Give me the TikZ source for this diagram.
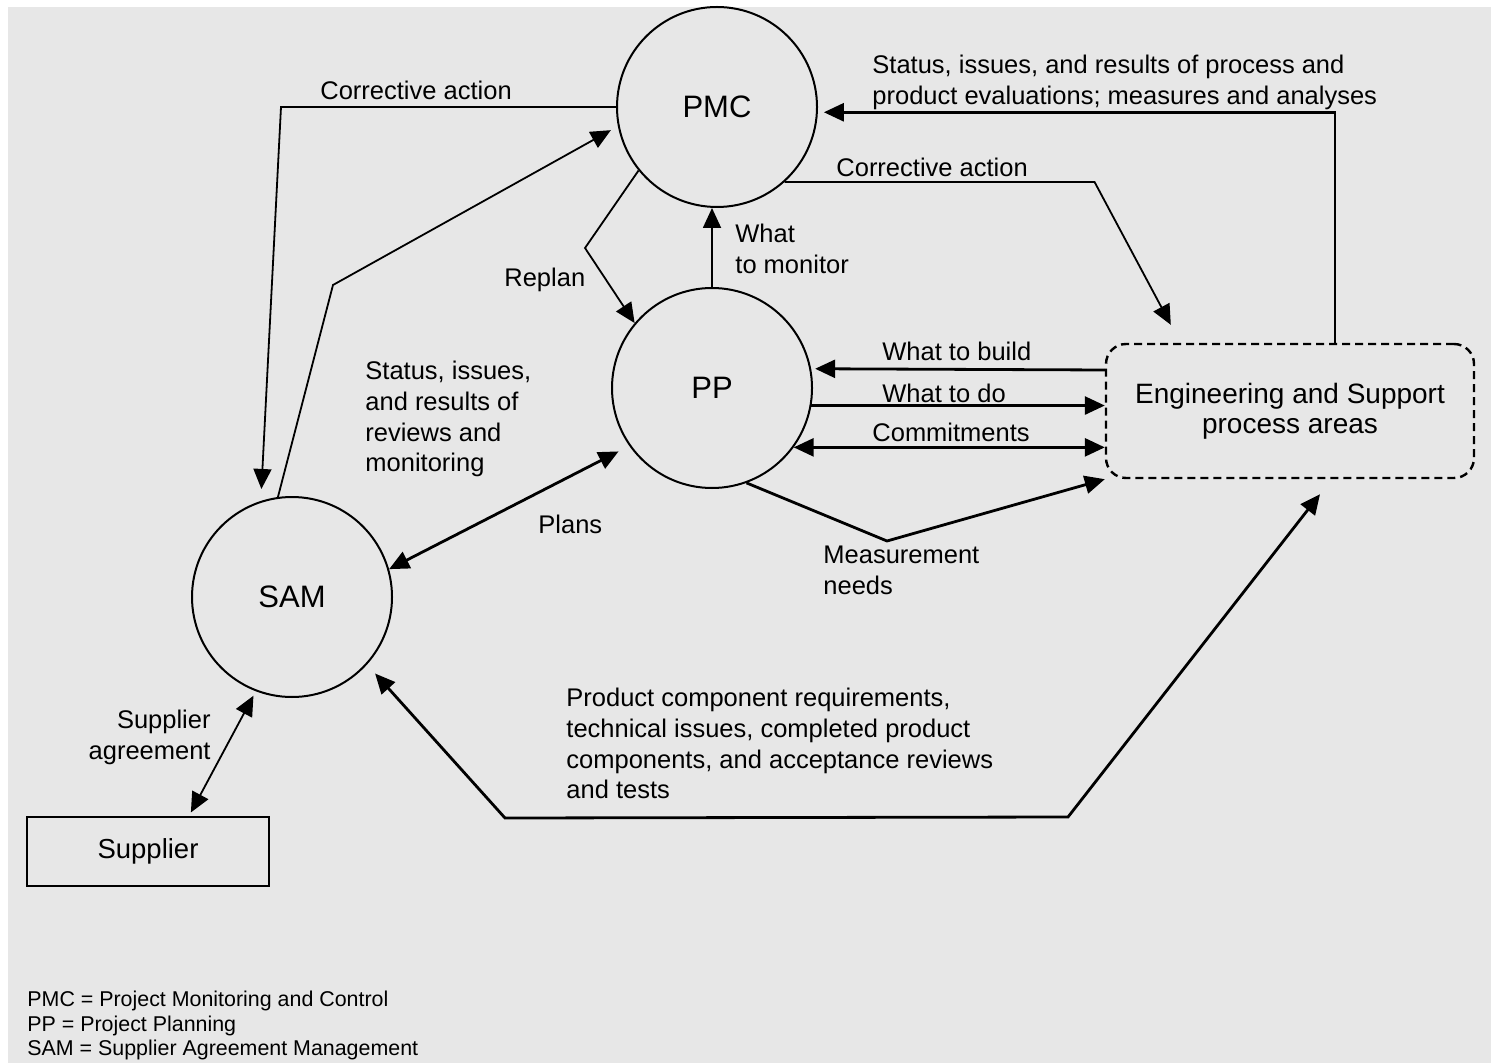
\documentclass[tikz,border=0pt]{standalone}
\usepackage{fontspec}
\setmainfont{Liberation Sans}
\usetikzlibrary{arrows.meta}
\definecolor{panelgray}{RGB}{231,231,231}

\begin{document}
\begin{tikzpicture} [x = 0.5pt, y = -0.5pt,
		area/.style = {circle, draw, line width = 1pt, minimum size = 100pt, inner sep = 0pt, font = \fontsize{15.5}{18}\selectfont},
		lbl/.style = {inner sep = 0pt, font = \fontsize{12.75}{15.3}\selectfont},
		flow/.style = {line width = 0.9pt},
		thick flow/.style = {line width = 1.4pt},
		> = {Triangle[length = 10pt, width = 9pt]}]
		\useasboundingbox (0, 0) rectangle (1491, 1063);
		\fill[white] (0, 0) rectangle (1491, 1063);
		\fill[panelgray] (8, 7) rectangle (1491, 1063);

		\node[area] (pmc) at (717, 107) {PMC};
		\node[area] (pp) at (712, 388) {PP};
		\node[area] (sam) at (292, 597) {SAM};

		\node[draw, line width = 1pt, minimum width = 121pt, minimum height = 34.5pt, font = \fontsize{13.75}{16}\selectfont] (supplier) at (148, 851.5) {Supplier};

		\node[draw, dash pattern = on 4pt off 2.5pt, rounded corners = 10pt, line width = 1.2pt, minimum width = 184pt, minimum height = 67pt, align = center, font = \fontsize{14}{14.8}\selectfont] (eng) at (1290, 411) {Engineering and Support\\process areas};

		% labels
		\node[lbl, anchor = base west] (caLeft) at (320, 100) {Corrective action};
		\node[lbl, anchor = base west] (replan) at (504, 287) {Replan};
		\node[lbl, anchor = base west] (caRight) at (836, 177) {Corrective action};
		\node[lbl, anchor = base west] (build) at (882, 361) {What to build};
		\node[lbl, anchor = base west] (todo) at (882, 402) {What to do};
		\node[lbl, anchor = base west] (commit) at (872, 441) {Commitments};
		\node[lbl, anchor = base west] (plans) at (538, 533) {Plans};

		\node[lbl, anchor = north west, align = left] (statusLeft) at (365, 361) {Status, issues,\\and results of\\reviews and\\monitoring};
		\node[lbl, anchor = north west, align = left] (monitor) at (735, 224) {What\\to monitor};
		\node[lbl, anchor = north west, align = left] (statusRight) at (872, 55) {Status, issues, and results of process and\\product evaluations; measures and analyses};
		\node[lbl, anchor = north west, align = left] (measure) at (823, 546) {Measurement\\needs};
		\node[lbl, anchor = north west, align = left] (product) at (566, 688) {Product component requirements,\\technical issues, completed product\\components, and acceptance reviews\\and tests};
		\node[lbl, anchor = north east, align = right] (agreement) at (211, 710) {Supplier\\agreement};

		\node[anchor = north west, align = left, inner sep = 0pt, font = \fontsize{10.7}{12.25}\selectfont] (legend) at (27, 991) {PMC = Project Monitoring and Control\\PP = Project Planning\\SAM = Supplier Agreement Management};

		% edges
		\draw[flow, ->, shorten > = 6pt] (pmc.west) -- (281, 107) -- (sam.108);
		\draw[flow, ->, shorten > = 4pt] (sam.98) -- (333, 285) -- (pmc.191);
		\draw[flow, ->] (pmc.219) -- (585, 248) -- (pp.140);
		\draw[flow, ->] (pp.north) -- (pp.north |- pmc.south);
		\draw[flow, ->] (pmc.312) -- ++(310, 0) -- ([shift = {(66, -18)}]eng.north west);
		\draw[thick flow, ->, shorten > = 3pt] ([xshift = 22.5pt]eng.north) |- (pmc.357);

		\draw[thick flow, ->, shorten > = 2pt] ([yshift = 20.5pt]eng.west) -- (pp.11);
		\draw[thick flow, ->] (pp.350) -- (pp.350 -| eng.west);
		\draw[thick flow, <->] (pp.324) -- (pp.324 -| eng.west);
		\draw[thick flow, ->] (pp.290) -- (887, 541) -- (eng.south west);

		\draw[thick flow, <->, shorten > = 6pt] (sam.16) -- (pp.215);
		\draw[flow, <->, shorten < = 2pt, shorten > = 2.5pt] ([xshift = 20.5pt]supplier.north) -- (sam.249);
		\draw[thick flow, <->, shorten < = 6pt] (sam.318) -- (505, 818) -- (1068, 817) -- ([shift = {(30, 15)}]eng.south);


		\end{tikzpicture}
\end{document}
